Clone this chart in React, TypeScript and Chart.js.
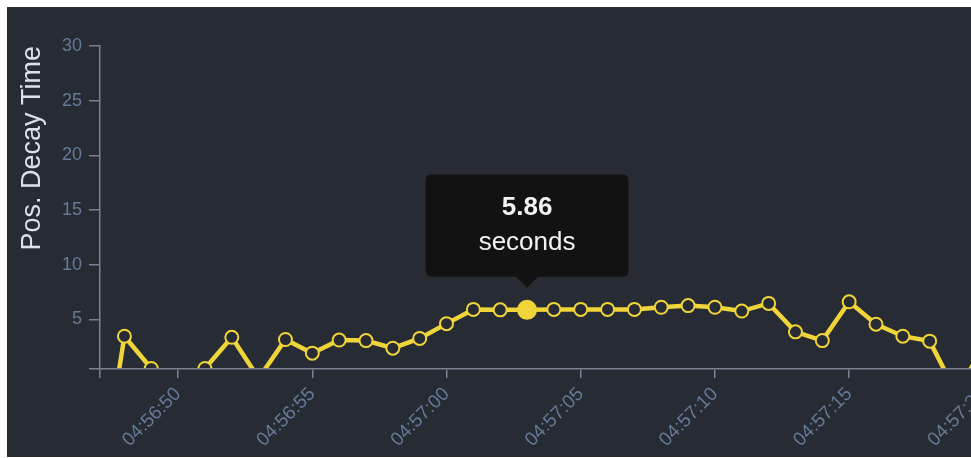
import React, { useEffect, useRef } from 'react';
import { Chart, registerables } from 'chart.js';

Chart.register(...registerables);

// ---- data ----
const times = [
  '04:56:47', '04:56:48', '04:56:49', '04:56:50', '04:56:51', '04:56:52', '04:56:53', '04:56:54',
  '04:56:55', '04:56:56', '04:56:57', '04:56:58', '04:56:59', '04:57:00', '04:57:01', '04:57:02',
  '04:57:03', '04:57:04', '04:57:05', '04:57:06', '04:57:07', '04:57:08', '04:57:09', '04:57:10',
  '04:57:11', '04:57:12', '04:57:13', '04:57:14', '04:57:15', '04:57:16', '04:57:17', '04:57:18',
  '04:57:19', '04:57:20',
];
const decaySeconds = [
  -12, 3.45, 0.5, -0.6, 0.5, 3.35, -0.4, 3.15,
  1.9, 3.1, 3.05, 2.35, 3.25, 4.6, 5.9, 5.86,
  5.86, 5.9, 5.9, 5.9, 5.9, 6.1, 6.25, 6.1,
  5.75, 6.45, 3.85, 3.05, 6.6, 4.55, 3.45, 3.0,
  -1.8, 2.5,
];
const xTickLabels = ['04:56:50', '04:56:55', '04:57:00', '04:57:05', '04:57:10', '04:57:15', '04:57:20'];
const yTickValues = [5, 10, 15, 20, 25, 30];
const activeTime = '04:57:03';
const yTitle = 'Pos. Decay Time';
const unitLabel = 'seconds';

// ---- helpers ----
const toSec = (t: string) => {
  const [h, m, s] = t.split(':').map(Number);
  return h * 3600 + m * 60 + s;
};
const pad = (n: number) => String(n).padStart(2, '0');
const fmt = (v: number) => {
  const r = Math.round(v);
  return `${pad(Math.floor(r / 3600))}:${pad(Math.floor((r % 3600) / 60))}:${pad(r % 60)}`;
};

const X_MIN = toSec('04:56:47') + 0.09;
const X_MAX = X_MIN + 33.53;
const Y_MIN = 0.45;
const Y_MAX = 30;

const BG = '#272b33';
const YELLOW = '#f0d53a';
const AXIS = '#7a8191';
const TICK_TXT = '#667a98';
const FONT = "'Liberation Sans', Arial, Helvetica, sans-serif";

export default function App() {
  const ref = useRef<HTMLCanvasElement>(null);

  useEffect(() => {
    const canvas = ref.current!;
    const points = times.map((t, i) => ({ x: toSec(t), y: decaySeconds[i] }));
    const activeIndex = times.indexOf(activeTime);

    const chart = new Chart(canvas, {
      type: 'line',
      data: {
        datasets: [
          {
            data: points,
            borderColor: YELLOW,
            borderWidth: 4.5,
            tension: 0,
            pointRadius: 6.5,
            pointBorderWidth: 2,
            pointBackgroundColor: BG,
            pointBorderColor: YELLOW,
            pointHoverRadius: 9,
            pointHoverBorderWidth: 2,
            pointHoverBackgroundColor: YELLOW,
            pointHoverBorderColor: YELLOW,
            clip: 0,
          },
        ],
      },
      options: {
        responsive: false,
        animation: false,
        events: [],
        layout: { padding: { top: 39, right: 20, left: 0, bottom: 0 } },
        plugins: {
          legend: { display: false },
          tooltip: {
            enabled: true,
            backgroundColor: '#121212',
            titleColor: '#f2f2f2',
            bodyColor: '#f2f2f2',
            titleFont: { family: FONT, size: 26, weight: 'bold' },
            bodyFont: { family: FONT, size: 26 },
            titleAlign: 'center',
            bodyAlign: 'center',
            titleMarginBottom: 4,
            padding: { x: 53, y: 18 },
            caretSize: 11,
            caretPadding: 22,
            cornerRadius: 6,
            displayColors: false,
            xAlign: 'center',
            yAlign: 'bottom',
            callbacks: {
              title: (items: any[]) => (items[0].parsed.y as number).toFixed(2),
              label: () => unitLabel,
            },
          },
        },
        scales: {
          x: {
            type: 'linear',
            min: X_MIN,
            max: X_MAX,
            afterBuildTicks: (scale: any) => {
              scale.ticks = [{ value: X_MIN }, ...xTickLabels.map((t) => ({ value: toSec(t) }))];
            },
            afterFit: (scale: any) => {
              scale.height = 88;
            },
            grid: { drawOnChartArea: false, drawTicks: true, tickLength: 9, color: AXIS, lineWidth: 1.5 },
            border: { display: true, color: AXIS, width: 1.5, z: 1 },
            ticks: {
              autoSkip: false,
              minRotation: 45,
              maxRotation: 45,
              padding: 5,
              color: TICK_TXT,
              font: { family: FONT, size: 19 },
              callback: (v: any) => {
                const n = Number(v);
                return Math.abs(n - Math.round(n)) > 0.01 ? '' : fmt(n);
              },
            },
          },
          y: {
            type: 'linear',
            min: Y_MIN,
            max: Y_MAX,
            afterBuildTicks: (scale: any) => {
              scale.ticks = [{ value: Y_MIN }, ...yTickValues.map((v) => ({ value: v }))];
            },
            afterFit: (scale: any) => {
              scale.width = 93;
            },
            grid: { drawOnChartArea: false, drawTicks: true, tickLength: 11, color: AXIS, lineWidth: 1.5 },
            border: { display: true, color: AXIS, width: 1.5, z: 1 },
            title: {
              display: true,
              text: yTitle,
              align: 'end',
              color: '#dde0e6',
              font: { family: FONT, size: 27 },
              padding: { top: 9, bottom: 0 },
            },
            ticks: {
              autoSkip: false,
              padding: 7,
              color: TICK_TXT,
              font: { family: FONT, size: 18 },
              callback: (v: any) => (Number(v) === Y_MIN ? '' : String(v)),
            },
          },
        },
      },
    } as any);

    const act = [{ datasetIndex: 0, index: activeIndex }];
    chart.setActiveElements(act);
    chart.tooltip!.setActiveElements(act, { x: 0, y: 0 });
    chart.update();

    return () => chart.destroy();
  }, []);

  return (
    <div
      style={{
        position: 'absolute',
        left: 7,
        top: 7,
        width: 964,
        height: 450,
        overflow: 'hidden',
        background: BG,
      }}
    >
      <canvas ref={ref} width={1013} height={450} style={{ display: 'block' }} />
    </div>
  );
}
